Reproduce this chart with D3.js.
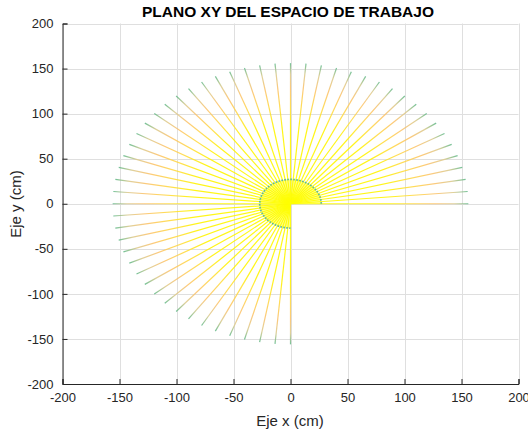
<!DOCTYPE html>
<html>
<head>
<meta charset="utf-8">
<script src="https://cdn.jsdelivr.net/npm/d3@7"></script>
<style>
  html, body { margin: 0; padding: 0; background: #fff; }
  svg { display: block; font-family: "Liberation Sans", Arial, Helvetica, sans-serif; }
</style>
</head>
<body>
<svg id="chart" width="528" height="436"></svg>
<script>
// Arm orientation of the first joint (degrees), one ray per step
const angles = [0, 5, 10, 15, 20, 25, 30, 35, 40, 45, 50, 55, 60, 65, 70, 75, 80, 85, 90,
  95, 100, 105, 110, 115, 120, 125, 130, 135, 140, 145, 150, 155, 160, 165, 170, 175, 180,
  185, 190, 195, 200, 205, 210, 215, 220, 225, 230, 235, 240, 245, 250, 255, 260, 265, 270];
// Reach of the arm (cm): fully extended and the inner limit
const outerReach = 156;
const innerReach = 27;
// Axis ticks
const xTicks = [-200, -150, -100, -50, 0, 50, 100, 150, 200];
const yTicks = [-200, -150, -100, -50, 0, 50, 100, 150, 200];
const xDomain = [-200, 200];
const yDomain = [-200, 200];

const svg = d3.select("#chart");
const L = 62.5, R = 518.5, T = 23.5, B = 384;
const x = d3.scaleLinear().domain(xDomain).range([L, R]);
const y = d3.scaleLinear().domain(yDomain).range([B, T]);
const rad = d => d * Math.PI / 180;
const px = (r, a) => x(r * Math.cos(rad(a)));
const py = (r, a) => y(r * Math.sin(rad(a)));

// grid
const grid = svg.append("g").attr("stroke", "#dfdfdf").attr("stroke-width", 1);
grid.selectAll("line.gx").data(xTicks).join("line")
  .attr("x1", d => Math.round(x(d)) + 0.5).attr("x2", d => Math.round(x(d)) + 0.5)
  .attr("y1", T).attr("y2", B);
grid.selectAll("line.gy").data(yTicks).join("line")
  .attr("y1", d => Math.round(y(d)) + 0.5).attr("y2", d => Math.round(y(d)) + 0.5)
  .attr("x1", L).attr("x2", R);

// gradients along each ray: yellow near the base, orange, green at the tip
const defs = svg.append("defs");
const stops = [
  [0.00, "#ffff00"], [0.55, "#fff400"], [0.68, "#ffdc40"], [0.82, "#fcc46e"],
  [0.92, "#dccb90"], [1.00, "#66bb8c"]
];
angles.forEach((a, i) => {
  const g = defs.append("linearGradient").attr("id", "ray" + i)
    .attr("gradientUnits", "userSpaceOnUse")
    .attr("x1", x(0)).attr("y1", y(0))
    .attr("x2", px(outerReach, a)).attr("y2", py(outerReach, a));
  stops.forEach(s => g.append("stop").attr("offset", s[0]).attr("stop-color", s[1]));
});

const plot = svg.append("g");

// inner sector, swept from 0 to 270 degrees
const sweep = d3.range(angles[0], angles[angles.length - 1] + 0.01, 1);
const sector = d3.line()([[x(0), y(0)], ...sweep.map(a => [px(innerReach, a), py(innerReach, a)])]) + "Z";
plot.append("path").attr("d", sector).attr("fill", "#ffff3a").attr("opacity", 0.6);

plot.selectAll("line.ray").data(angles).join("line")
  .attr("x1", x(0)).attr("y1", y(0))
  .attr("x2", a => px(outerReach, a))
  .attr("y2", a => py(outerReach, a))
  .attr("stroke", (a, i) => `url(#ray${i})`)
  .attr("stroke-width", 1.2)
  .attr("opacity", 0.9);

// inner limit of the reach
plot.append("path")
  .attr("d", d3.line()(sweep.map(a => [px(innerReach, a), py(innerReach, a)])))
  .attr("fill", "none").attr("stroke", "#4fb39c").attr("stroke-width", 1.7)
  .attr("stroke-dasharray", "1.7,1.3").attr("opacity", 0.9);

// axes
const axisColor = "#262626";
const xAxis = svg.append("g").attr("transform", `translate(0,${B})`)
  .call(d3.axisBottom(x).tickValues(xTicks).tickSize(-5).tickPadding(9).tickFormat(d3.format("d")));
const yAxis = svg.append("g").attr("transform", `translate(${L},0)`)
  .call(d3.axisLeft(y).tickValues(yTicks).tickSize(-5).tickPadding(9).tickFormat(d3.format("d")));
[xAxis, yAxis].forEach(g => {
  g.select(".domain").attr("stroke", axisColor).attr("stroke-width", 1);
  g.selectAll(".tick line").attr("stroke", axisColor);
  g.selectAll(".tick text").attr("fill", axisColor).attr("font-size", 13)
    .attr("font-family", "'Liberation Sans', Arial, sans-serif");
});
xAxis.selectAll(".tick text").text(d => d < 0 ? "-" + Math.abs(d) : d);
yAxis.selectAll(".tick text").text(d => d < 0 ? "-" + Math.abs(d) : d);

// titles
svg.append("text").attr("x", 288).attr("y", 17).attr("text-anchor", "middle")
  .attr("font-size", 15.5).attr("font-weight", "bold").attr("fill", "#000")
  .text("PLANO XY DEL ESPACIO DE TRABAJO");
svg.append("text").attr("x", 290).attr("y", 426).attr("text-anchor", "middle")
  .attr("font-size", 15).attr("fill", axisColor).text("Eje x (cm)");
svg.append("text").attr("transform", "translate(21,204) rotate(-90)").attr("text-anchor", "middle")
  .attr("font-size", 15).attr("fill", axisColor).text("Eje y (cm)");
</script>
</body>
</html>
